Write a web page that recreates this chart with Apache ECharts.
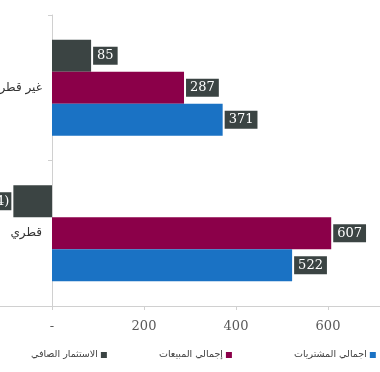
<!DOCTYPE html>
<html><head><meta charset="utf-8">
<script src="https://cdn.jsdelivr.net/npm/echarts@6/dist/echarts.min.js"></script>
<style>html,body{margin:0;padding:0;background:#fff}#c{width:380px;height:372px}</style>
</head><body><div id="c"></div>
<script>
const categories = ['قطري', 'غير قطري'];
const seriesNames = ['الاستثمار الصافي', 'إجمالي المبيعات', 'اجمالي المشتريات'];
const netInvestment = [-84, 85];
const totalSales = [607, 287];
const totalPurchases = [522, 371];
const xTicks = [-200, 0, 200, 400, 600, 800];

const colors = ['#3b4443', '#8b0049', '#1a72c4'];
const fmt = v => v === 0 ? '-' : (v < 0 ? '(' + Math.abs(v) + ')' : String(v));

function mkData(arr) {
  return arr.map(v => ({
    value: v,
    label: v < 0 ? { position: 'left', padding: [3, 2, 2, 2] } : { position: 'right' }
  }));
}
const labelStyle = {
  show: true,
  formatter: p => fmt(p.value),
  color: '#fff',
  backgroundColor: '#3b4443',
  padding: [3, 4, 2, 4],
  fontFamily: 'DejaVu Serif',
  fontSize: 13,
  distance: 2
};
const allData = [netInvestment, totalSales, totalPurchases];
const series = seriesNames.map((n, i) => ({
  name: n,
  type: 'bar',
  data: mkData(allData[i]),
  itemStyle: { color: colors[i] },
  barGap: '0%',
  barCategoryGap: '34%',
  label: labelStyle
}));

const legendLefts = [26, 154, 289];
const legends = seriesNames.map((n, i) => ({
  bottom: 7, left: legendLefts[i],
  data: [n],
  align: 'right',
  itemWidth: 6, itemHeight: 6,
  icon: 'rect',
  textStyle: { color: '#404040', fontFamily: 'DejaVu Sans', fontSize: 9.5, padding: [0, -2, 0, 0] }
}));

const chart = echarts.init(document.getElementById('c'));
chart.setOption({
  animation: false,
  grid: { left: -40, right: -40, top: 15, bottom: 66, containLabel: false, outerBoundsMode: 'none' },
  xAxis: {
    type: 'value',
    min: xTicks[0], max: xTicks[xTicks.length - 1], interval: 200,
    splitLine: { show: false },
    axisLine: { show: true, lineStyle: { color: '#d0d0d0' } },
    axisTick: { show: true, length: 4, lineStyle: { color: '#d0d0d0' } },
    axisLabel: { formatter: fmt, color: '#595959', fontFamily: 'DejaVu Serif', fontSize: 13, margin: 14 }
  },
  yAxis: {
    type: 'category',
    data: categories,
    offset: -92,
    axisLine: { show: true, onZero: false, lineStyle: { color: '#d0d0d0' } },
    axisTick: { show: true, length: 4, lineStyle: { color: '#d0d0d0' } },
    axisLabel: { color: '#333', fontFamily: 'DejaVu Sans', fontSize: 12, margin: 10 }
  },
  legend: legends,
  series: series
});
</script></body></html>
